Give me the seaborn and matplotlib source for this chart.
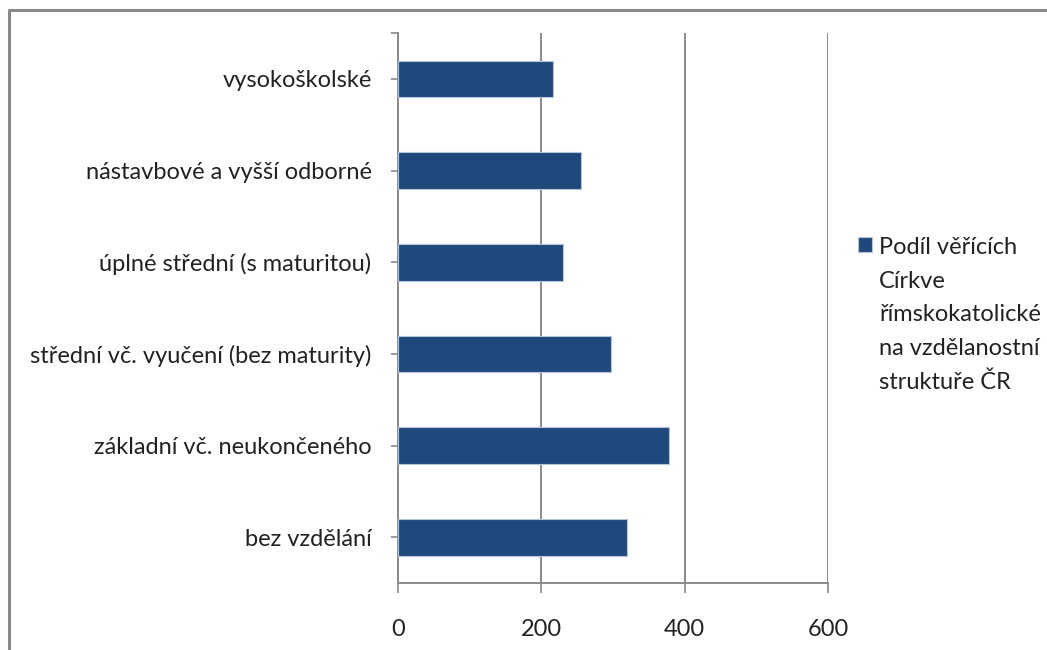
import pandas as pd
import seaborn as sns
import matplotlib.pyplot as plt
from matplotlib.lines import Line2D

# data
kategorie = ['vysokoškolské', 'nástavbové a vyšší odborné', 'úplné střední (s maturitou)',
             'střední vč. vyučení (bez maturity)', 'základní vč. neukončeného', 'bez vzdělání']
hodnoty = [216, 255, 230, 297, 378, 320]
xticks = [0, 200, 400, 600]
nazev_rady = 'Podíl věřících\nCírkve\nřímskokatolické\nna vzdělanostní\nstruktuře ČR'

df = pd.DataFrame({'kategorie': kategorie, 'hodnota': hodnoty})

sns.set_style('white')
plt.rcParams['font.family'] = ['Lato', 'DejaVu Sans']

fig = plt.figure(figsize=(10.47, 6.5), dpi=100)
ax = fig.add_axes([398 / 1047, 1 - 583 / 650, 430 / 1047, 550 / 650])

sns.barplot(data=df, x='hodnota', y='kategorie', orient='h', color='#1F497D',
            width=0.4, edgecolor='#B4C4DA', linewidth=0.8, saturation=1,
            label=nazev_rady, ax=ax, zorder=3)

grey = '#8A8A8A'
ax.set_xlim(0, 600)
ax.set_xticks(xticks)
ax.set_ylim(5.5, -0.5)
ax.set_xlabel('')
ax.set_ylabel('')
ax.grid(axis='x', color=grey, linewidth=1.4, zorder=0)
ax.grid(axis='y', visible=False)
for s in ['top', 'right']:
    ax.spines[s].set_visible(False)
for s in ['left', 'bottom']:
    ax.spines[s].set_color(grey)
    ax.spines[s].set_linewidth(1.4)
ax.set_yticks([-0.5], minor=True)
ax.tick_params(axis='x', direction='out', length=7, width=1.2, color=grey,
               pad=19, labelsize=17, labelcolor='#222222', bottom=True)
ax.tick_params(axis='y', which='both', direction='out', length=5, width=1.2, color=grey,
               pad=14, labelsize=17, labelcolor='#222222', left=True)

if ax.get_legend():
    ax.get_legend().remove()
leg = fig.legend(loc='upper left', bbox_to_anchor=(858 / 1047, 1 - 237 / 650),
                 frameon=False, fontsize=17, handlelength=0.6, handleheight=0.6,
                 handletextpad=0.3, borderpad=0, borderaxespad=0, labelcolor='#222222')
for t in leg.get_texts():
    t.set_linespacing(1.74)
# square next to the first line of the label, as in the original
for col in leg._legend_handle_box.get_children():
    for row in col.get_children():
        row.align = 'top'

# outer chart frame (only top and left edge visible in the crop)
fig.add_artist(Line2D([9 / 1047, 9 / 1047, 1.01], [-0.01, 1 - 10 / 650, 1 - 10 / 650],
                      transform=fig.transFigure, color=grey, linewidth=2.2))

fig.savefig('out.png', dpi=100)
